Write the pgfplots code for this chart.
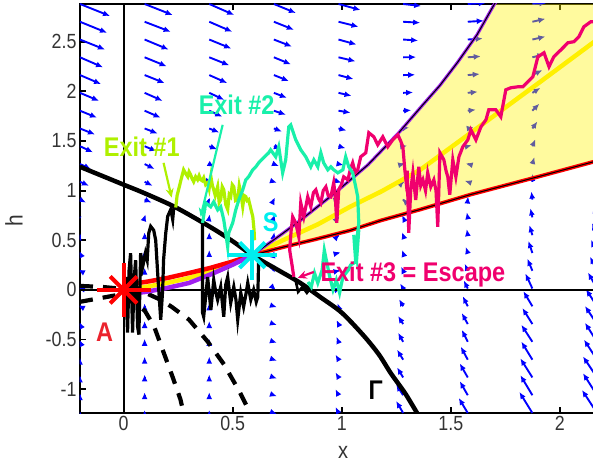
\documentclass[border=0pt]{standalone}
\usepackage{fontspec}
\setmainfont{Liberation Sans}[FakeStretch=0.87]
\usepackage{pgfplots}
\pgfplotsset{compat=1.18}
\usetikzlibrary{arrows.meta}
\definecolor{exone}{RGB}{175,240,0}
\definecolor{extwo}{RGB}{25,240,170}
\definecolor{exthree}{RGB}{240,0,110}
\definecolor{scol}{RGB}{0,238,238}
\definecolor{acol}{RGB}{235,35,45}
\definecolor{purp}{RGB}{160,32,240}
\definecolor{ylw}{RGB}{255,240,0}
\newcommand\lbl{\fontsize{27}{30}\selectfont\bfseries}
\begin{document}
\begin{tikzpicture}
\begin{axis}[
  at={(0,0)}, anchor=south west,
  scale only axis, width=517pt, height=409pt,
  xmin=-0.2, xmax=2.17, ymin=-1.24, ymax=2.88,
  ytick pos=left,
  tick align=inside, major tick length=6pt,
  axis line style={line width=2pt},
  every tick/.style={black, line width=1.8pt},
  xtick={0,0.5,1,1.5,2}, xticklabels={0,0.5,1,1.5,2},
  ytick={-1,-0.5,0,0.5,1,1.5,2,2.5}, yticklabels={-1,-0.5,0,0.5,1,1.5,2,2.5},
  tick label style={font=\fontsize{20.5}{22}\selectfont, text=black!80},
  xlabel={x}, ylabel={h},
  every axis x label/.style={at={(axis description cs:0.509,-0.097)},anchor=center,font=\fontsize{23}{24}\selectfont, text=black!80, inner sep=0pt},
  every axis y label/.style={at={(axis description cs:-0.128,0.47)},anchor=center,rotate=90,font=\fontsize{24}{26}\selectfont, text=black!80},
]
% vector field (pixel-sized components)
\addplot[blue, line width=1.9pt, -{Latex[length=7pt,width=6pt]},
  quiver={u=\thisrow{u}/218, v=\thisrow{v}/99.2}] table {
x y u v
-0.2 -1.240 0 2
-0.2 -1.061 0 2
-0.2 -0.882 0 2
-0.2 -0.703 0 2
-0.2 -0.523 -1 2
-0.2 -0.344 -1 2
-0.2 -0.165 -2 1
-0.2 0.014 -2 0.5
-0.2 0.193 -2 1
-0.2 0.372 -1 2
-0.2 0.551 0.5 2
-0.2 0.731 2 1
-0.2 0.910 6 -3
-0.2 1.089 9 -4
-0.2 1.268 11 -5
-0.2 1.447 13 -6
-0.2 1.626 15 -6
-0.2 1.805 17 -7
-0.2 1.985 19 -8
-0.2 2.164 21 -9
-0.2 2.343 23 -10
-0.2 2.522 25 -10
-0.2 2.701 27 -11
-0.2 2.880 30 -12
0.09625 -1.240 0 3
0.09625 -1.061 0 3
0.09625 -0.882 0 3
0.09625 -0.703 0 3
0.09625 -0.523 0 3
0.09625 -0.344 0 3
0.09625 -0.165 0 3
0.09625 0.014 0 3
0.09625 0.193 0 3
0.09625 0.372 0 3
0.09625 0.551 0 3
0.09625 0.731 1 3
0.09625 0.910 7 -3
0.09625 1.089 8 -4
0.09625 1.268 10 -5
0.09625 1.447 12 -5
0.09625 1.626 13 -5
0.09625 1.805 16 -7
0.09625 1.985 18 -8
0.09625 2.164 20 -8
0.09625 2.343 22 -9
0.09625 2.522 24 -10
0.09625 2.701 26 -10
0.09625 2.880 28 -11
0.3925 -1.240 0 3
0.3925 -1.061 0 3
0.3925 -0.882 0 3
0.3925 -0.703 0 3
0.3925 -0.523 0 3
0.3925 -0.344 0 3
0.3925 -0.165 0 3
0.3925 0.014 0 3
0.3925 0.193 0 3
0.3925 0.372 0 3
0.3925 0.551 0 3
0.3925 0.731 0.5 3
0.3925 0.910 1 2
0.3925 1.089 3 -1
0.3925 1.268 5 -3
0.3925 1.447 8 -3
0.3925 1.626 10 -4
0.3925 1.805 13 -6
0.3925 1.985 15 -7
0.3925 2.164 18 -8
0.3925 2.343 20 -8
0.3925 2.522 22 -9
0.3925 2.701 23 -10
0.3925 2.880 25 -11
0.68875 -1.240 3 -1
0.68875 -1.061 3 -1
0.68875 -0.882 3 -1
0.68875 -0.703 3 -1
0.68875 -0.523 3 -1
0.68875 -0.344 3 -1
0.68875 -0.165 3 -1
0.68875 0.014 2 -2
0.68875 0.193 1 -2
0.68875 0.372 0.5 2
0.68875 0.551 0.5 3
0.68875 0.731 1 3
0.68875 0.910 1 2
0.68875 1.089 3 -1
0.68875 1.268 5 -2
0.68875 1.447 7 -3
0.68875 1.626 8 -3
0.68875 1.805 12 -4
0.68875 1.985 13 -5
0.68875 2.164 15 -6
0.68875 2.343 17 -7
0.68875 2.522 18 -7
0.68875 2.701 20 -8
0.68875 2.880 22 -9
0.985 -1.240 -3 6
0.985 -1.061 -3 6
0.985 -0.882 -3 5
0.985 -0.703 -3 5
0.985 -0.523 -2 5
0.985 -0.344 -2 4
0.985 -0.165 -1 3
0.985 0.014 2 1
0.985 0.193 2 0.5
0.985 0.372 2 0.5
0.985 0.551 1 1
0.985 0.731 1 1
0.985 0.910 2 0.5
0.985 1.089 3 -1
0.985 1.268 5 -1
0.985 1.447 7 -2
0.985 1.626 8 -2
0.985 1.805 12 -2
0.985 1.985 13 -3
0.985 2.164 15 -4
0.985 2.343 17 -4
0.985 2.522 18 -5
0.985 2.701 20 -5
0.985 2.880 22 -6
1.28125 -1.240 -7 12
1.28125 -1.061 -7 11
1.28125 -0.882 -6 10
1.28125 -0.703 -6 10
1.28125 -0.523 -5 9
1.28125 -0.344 -5 8
1.28125 -0.165 -4 7
1.28125 0.014 -3 5
1.28125 0.193 -2 4
1.28125 0.372 -1 3
1.28125 0.551 -1 3
1.28125 0.731 -1 2
1.28125 0.910 -1 1
1.28125 1.089 1 1
1.28125 1.268 2 0.5
1.28125 1.447 4 0.5
1.28125 1.626 6 1
1.28125 1.805 8 0.5
1.28125 1.985 10 0.5
1.28125 2.164 12 0.3
1.28125 2.343 13 0.2
1.28125 2.522 15 -1
1.28125 2.701 17 -1
1.28125 2.880 18 -2
1.5775 -1.240 -9 15
1.5775 -1.061 -8 14
1.5775 -0.882 -8 14
1.5775 -0.703 -7 13
1.5775 -0.523 -6 12
1.5775 -0.344 -6 11
1.5775 -0.165 -5 10
1.5775 0.014 -4 8
1.5775 0.193 -3 7
1.5775 0.372 -2 6
1.5775 0.551 -1 6
1.5775 0.731 -1 5
1.5775 0.910 0.3 3
1.5775 1.089 -3 1
1.5775 1.268 -2 0.5
1.5775 1.447 4 1
1.5775 1.626 6 1
1.5775 1.805 8 1
1.5775 1.985 10 1
1.5775 2.164 12 1
1.5775 2.343 13 1
1.5775 2.522 15 1
1.5775 2.701 16 1
1.5775 2.880 18 1
1.87375 -1.240 -13 21
1.87375 -1.061 -12 20
1.87375 -0.882 -12 19
1.87375 -0.703 -11 18
1.87375 -0.523 -11 17
1.87375 -0.344 -10 16
1.87375 -0.165 -9 15
1.87375 0.014 -7 15
1.87375 0.193 -5 12
1.87375 0.372 -4 12
1.87375 0.551 -3 10
1.87375 0.731 -2 9
1.87375 0.910 -1 8
1.87375 1.089 0.3 8
1.87375 1.268 2 7
1.87375 1.447 3 7
1.87375 1.626 5 7
1.87375 1.805 7 7
1.87375 1.985 8 5
1.87375 2.164 10 5
1.87375 2.343 12 3
1.87375 2.522 13 3
1.87375 2.701 13 3
1.87375 2.880 14 1
2.17 -1.240 -15 23
2.17 -1.061 -14 22
2.17 -0.882 -14 21
2.17 -0.703 -13 20
2.17 -0.523 -12 19
2.17 -0.344 -12 18
2.17 -0.165 -11 17
2.17 0.014 -9 16
2.17 0.193 -7 14
2.17 0.372 -6 13
2.17 0.551 -5 12
2.17 0.731 -4 11
2.17 0.910 -3 10
2.17 1.089 -2 10
2.17 1.268 -1 9
2.17 1.447 0.5 9
2.17 1.626 2 9
2.17 1.805 4 8
2.17 1.985 6 7
2.17 2.164 8 6
2.17 2.343 10 5
2.17 2.522 11 4
2.17 2.701 12 3
2.17 2.880 13 2
};
% translucent wedge
\addplot[draw=none, fill=yellow, fill opacity=0.38] coordinates {
(0.59,0.35) (0.66,0.46) (0.73,0.57) (0.81,0.70) (0.89,0.84) (0.965,0.97) (1.04,1.11) (1.12,1.26) (1.19,1.42) (1.26,1.58) (1.37,1.86) (1.45,2.06) (1.53,2.29) (1.62,2.57) (1.70,2.88) (2.17,2.88) (2.17,1.30) (1.90,1.14) (1.59,0.96) (1.36,0.81) (1.18,0.70) (1.04,0.60) (0.88,0.51) (0.73,0.43) (0.59,0.35)} -- cycle;
% axes through origin
\addplot[black, line width=2.2pt] coordinates {(0,-1.24) (0,2.88)};
\addplot[black, line width=2.2pt] coordinates {(-0.2,0) (2.17,0)};
% Gamma
\addplot[black, line width=4.5pt, smooth] coordinates {
(-0.2,1.24) (-0.1,1.15) (0,1.06) (0.1,0.97) (0.24,0.83) (0.4,0.63) (0.5,0.49) (0.59,0.35) (0.7,0.21) (0.81,0.07) (0.9,-0.07) (1.0,-0.23) (1.1,-0.46) (1.17,-0.65) (1.225,-0.84) (1.29,-1.04) (1.345,-1.24)};
% dashed curves
\addplot[black, line width=4.2pt, dash pattern=on 13pt off 10pt] coordinates {
(-0.2,-0.12) (-0.1,-0.08) (0,-0.04) (0.05,-0.1) (0.1,-0.22) (0.14,-0.37) (0.175,-0.58) (0.225,-0.88) (0.26,-1.1) (0.275,-1.24)};
\addplot[black, line width=4.2pt, dash pattern=on 13pt off 10pt] coordinates {
(-0.2,0.04) (-0.1,0.03) (0,0.01) (0.1,-0.03) (0.17,-0.1) (0.22,-0.17) (0.3,-0.3) (0.385,-0.52) (0.46,-0.75) (0.53,-1.02) (0.58,-1.24)};
% wedge lines
\addplot[ylw, line width=4.5pt] coordinates {
(0.59,0.35) (0.73,0.50) (0.89,0.66) (1.04,0.84) (1.18,0.99) (1.36,1.21) (1.59,1.58) (1.90,2.08) (2.17,2.52)};
\addplot[purp, line width=3.2pt] coordinates {
(0.59,0.35) (0.66,0.46) (0.73,0.57) (0.81,0.70) (0.89,0.84) (0.965,0.97) (1.04,1.11) (1.12,1.26) (1.19,1.42) (1.26,1.58) (1.37,1.86) (1.45,2.06) (1.53,2.29) (1.62,2.57) (1.70,2.88) (1.74,3.0)};
\addplot[black, line width=1pt] coordinates {
(0.59,0.35) (0.66,0.46) (0.73,0.57) (0.81,0.70) (0.89,0.84) (0.965,0.97) (1.04,1.11) (1.12,1.26) (1.19,1.42) (1.26,1.58) (1.37,1.86) (1.45,2.06) (1.53,2.29) (1.62,2.57) (1.70,2.88) (1.74,3.0)};
\addplot[red, line width=3.8pt] coordinates {
(0.59,0.35) (0.73,0.43) (0.88,0.51) (1.04,0.60) (1.18,0.70) (1.36,0.81) (1.59,0.96) (1.90,1.14) (2.17,1.30)};
\addplot[black, line width=1pt] coordinates {
(0.59,0.35) (0.73,0.43) (0.88,0.51) (1.04,0.60) (1.18,0.70) (1.36,0.81) (1.59,0.96) (1.90,1.14) (2.17,1.30)};
% A to S band
\addplot[ylw, line width=4.5pt] coordinates {(0,0) (0.1,0.03) (0.2,0.07) (0.3,0.12) (0.4,0.19) (0.5,0.27) (0.59,0.35)};
\addplot[red, line width=4.5pt] coordinates {(0,0.05) (0.1,0.08) (0.2,0.12) (0.3,0.17) (0.4,0.223) (0.5,0.286) (0.59,0.35)};
\addplot[purp, line width=4.5pt] coordinates {(0,-0.05) (0.1,-0.02) (0.2,0.02) (0.3,0.07) (0.4,0.157) (0.5,0.254) (0.59,0.35)};
% black noisy paths
\addplot[black, line width=3.2pt] coordinates {
(0,0) (0.009,0.13) (0.018,-0.43) (0.025,0.2) (0.032,0.37) (0.041,-0.43) (0.048,0.1) (0.055,0.30) (0.064,-0.37) (0.07,-0.45) (0.078,0.37) (0.087,0.23) (0.10,0.37) (0.108,0.30) (0.115,0.57) (0.124,0.64) (0.138,0.60) (0.147,0.50) (0.156,0.17) (0.161,0) (0.17,-0.30) (0.176,-0.1) (0.179,0) (0.183,0.30) (0.193,0.57) (0.202,0.74) (0.216,0.81) (0.225,0.71) (0.229,0.81) (0.239,0.84)};
\addplot[black, line width=3.2pt] coordinates {
(0.362,0.675) (0.362,-0.23) (0.367,-0.27) (0.385,0.13) (0.393,-0.05) (0.40,-0.20) (0.413,0.10) (0.422,-0.02) (0.431,-0.10) (0.445,0.03) (0.459,-0.27) (0.468,0.05) (0.477,0.13) (0.491,-0.13) (0.505,0.03) (0.515,-0.1) (0.523,-0.30) (0.537,-0.03) (0.55,-0.17) (0.56,-0.05) (0.569,0.07) (0.583,-0.10) (0.596,0) (0.608,-0.12) (0.615,-0.07) (0.619,0.30)};
\addplot[black, line width=2.6pt] coordinates {(0.79,0.08) (0.80,-0.02) (0.82,0.03) (0.84,-0.03) (0.85,0.0)};
% Exit #1 path
\addplot[exone, line width=3.2pt] coordinates {
(0.239,0.83) (0.245,0.95) (0.252,1.01) (0.262,1.10) (0.275,1.21) (0.285,1.17) (0.294,1.14) (0.300,1.19) (0.307,1.16) (0.314,1.12) (0.321,1.09) (0.330,1.14) (0.339,1.11) (0.346,1.15) (0.353,1.11) (0.360,1.10) (0.367,1.13) (0.376,1.06) (0.385,1.08) (0.392,1.02) (0.40,1.14) (0.407,1.05) (0.413,1.01) (0.42,0.95) (0.431,1.04) (0.438,0.88) (0.445,0.91) (0.452,1.04) (0.459,1.01) (0.468,0.86) (0.477,0.81) (0.484,0.96) (0.491,0.94) (0.498,1.06) (0.505,1.04) (0.513,0.90) (0.523,0.91) (0.530,1.05) (0.537,0.98) (0.546,0.84) (0.553,0.95) (0.56,0.94) (0.566,0.90) (0.573,0.91) (0.585,0.80) (0.592,0.74) (0.598,0.60) (0.60,0.50)};
% Exit #3 path
\addplot[exthree, line width=3.2pt] coordinates {
(0.780,0.131) (0.772,0.25) (0.761,0.403) (0.768,0.60) (0.775,0.736) (0.789,0.675) (0.803,0.534) (0.812,0.877) (0.826,0.736) (0.844,0.938) (0.858,0.837) (0.870,0.98) (0.881,1.008) (0.893,0.92) (0.904,0.877) (0.915,1.0) (0.927,1.038) (0.938,0.95) (0.950,0.938) (0.963,1.079) (0.970,0.95) (0.977,0.675) (0.986,1.008) (0.998,1.06) (1.009,1.139) (1.028,1.109) (1.040,1.22) (1.050,1.280) (1.062,1.18) (1.073,1.210) (1.087,1.341) (1.110,1.381) (1.124,1.583) (1.147,1.542) (1.165,1.462) (1.188,1.542) (1.211,1.442) (1.234,1.512) (1.257,1.563) (1.270,1.50) (1.280,1.442) (1.289,1.210) (1.294,1.109) (1.300,1.2) (1.307,0.575) (1.316,1.0) (1.326,1.179) (1.339,0.907) (1.353,1.240) (1.362,1.05) (1.372,1.109) (1.384,1.0) (1.394,1.179) (1.408,1.038) (1.422,1.109) (1.432,1.0) (1.440,0.635) (1.450,1.381) (1.468,1.310) (1.478,1.2) (1.486,1.139) (1.495,0.958) (1.509,1.310) (1.523,1.139) (1.537,1.341) (1.555,1.442) (1.578,1.512) (1.592,1.613) (1.615,1.512) (1.638,1.643) (1.661,1.714) (1.674,1.815) (1.706,1.815) (1.729,1.744) (1.752,2.016) (1.775,2.036) (1.807,2.046) (1.830,2.046) (1.853,2.097) (1.876,2.147) (1.899,2.349) (1.927,2.389) (1.950,2.248) (1.972,2.349) (2.005,2.419) (2.037,2.490) (2.064,2.500) (2.087,2.550) (2.110,2.651) (2.142,2.702) (2.17,2.70)};
% Exit #2 path
\addplot[extwo, line width=3.2pt] coordinates {
(0.362,0.675) (0.376,0.877) (0.399,0.837) (0.413,0.887) (0.431,0.806) (0.445,0.837) (0.459,0.706) (0.468,0.575) (0.477,0.433) (0.482,0.575) (0.500,0.675) (0.514,0.806) (0.528,0.907) (0.546,1.008) (0.560,1.109) (0.573,1.139) (0.592,1.210) (0.606,1.240) (0.619,1.280) (0.642,1.331) (0.665,1.381) (0.674,1.411) (0.697,1.341) (0.711,1.442) (0.729,1.179) (0.743,1.310) (0.757,1.643) (0.766,1.663) (0.789,1.512) (0.812,1.411) (0.835,1.341) (0.858,1.240) (0.872,1.310) (0.890,1.240) (0.904,1.381) (0.917,1.280) (0.936,1.210) (0.950,1.240) (0.963,1.210) (0.982,1.179) (1.005,1.210) (1.018,1.341) (1.032,1.240) (1.050,1.179) (1.064,1.038) (1.073,0.938) (1.078,0.675) (1.064,0.403) (1.078,0.605) (1.069,0.333) (1.055,0.554) (1.064,0.282) (1.04,0.25) (1.03,0.2) (1.005,0.13) (0.99,-0.03) (0.975,0.1) (0.96,0.0) (0.945,0.13) (0.92,0.4) (0.91,0.2) (0.89,0.07) (0.875,0.17) (0.86,0.03) (0.845,0.08)};
% equilibria
\addplot[red, line width=4pt, mark=+, mark size=27pt, only marks] coordinates {(0,0)};
\addplot[red, line width=4pt, mark=x, mark size=19pt, only marks] coordinates {(0,0)};
\addplot[scol, line width=4pt, mark=+, mark size=25pt, only marks] coordinates {(0.59,0.35)};
\addplot[scol, line width=4pt, mark=x, mark size=18pt, only marks] coordinates {(0.59,0.35)};
% annotation arrows
\addplot[exone, line width=2.2pt, -{Stealth[length=9pt,width=8pt]}] coordinates {(0.183,1.28) (0.22,0.93)};
\addplot[extwo, line width=2.2pt, -{Stealth[length=9pt,width=8pt]}] coordinates {(0.454,1.663) (0.353,0.736)};
\addplot[exthree, line width=2.2pt, -{Stealth[length=9pt,width=8pt]}] coordinates {(0.872,0.181) (0.798,0.121)};
% labels
\node[anchor=base, text=exone, font=\lbl] at (axis cs:0.083,1.34) {Exit \#1};
\node[anchor=base, text=extwo, font=\lbl] at (axis cs:0.518,1.764) {Exit \#2};
\node[anchor=base, text=scol, font=\lbl] at (axis cs:0.674,0.585) {S};
\node[anchor=base, text=acol, font=\lbl] at (axis cs:-0.087,-0.524) {A};
\node[anchor=base, text=exthree, font=\lbl] at (axis cs:1.326,0.081) {Exit \#3 = Escape};
\node[anchor=base, text=black, font=\lbl] at (axis cs:1.156,-1.109) {Γ};
\end{axis}
\pgfresetboundingbox
\useasboundingbox (-80pt,-52pt) rectangle (513pt,413pt);
\end{tikzpicture}
\end{document}
